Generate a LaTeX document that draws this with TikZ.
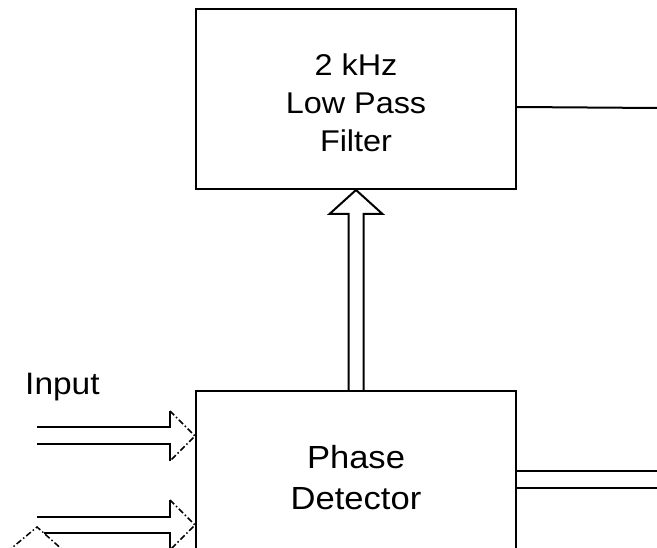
\documentclass[tikz,border=0pt]{standalone}
\usepackage{fontspec}
\newfontfamily\lbl[FakeStretch=1.08]{Liberation Sans}
\usetikzlibrary{calc}
\begin{document}
\begin{tikzpicture}[x=1pt,y=-1pt,
  box/.style={draw, line width=2pt, inner sep=0pt, minimum width=320pt},
  lbltext/.style={align=center, inner sep=0pt},
  wire/.style={line width=2pt, line join=miter},
  tipdash/.style={line width=1.5pt, dash pattern=on 6pt off 2.5pt on 1.5pt off 2.5pt}]
\useasboundingbox (0,0) rectangle (657,548);
\clip (0,0) rectangle (657,548);
% boxes
\node[box, minimum height=180pt] (filt) at (356,99) {};
\node[lbltext, font=\lbl\fontsize{30}{38}\selectfont] (filtlbl) at (356,103) {2 kHz\\Low Pass\\Filter};
\node[box, minimum height=300pt, anchor=north] (pd) at (356,390) {};
\node[lbltext, font=\lbl\fontsize{32}{41}\selectfont] (pdlbl) at (356,478) {Phase\\Detector};
% input label
\node[anchor=base west, inner sep=0pt, font=\lbl\fontsize{31}{36}\selectfont] (inlab) at (25,395) {Input};
% hollow arrow from phase detector to filter
\draw[wire] ($(pd.north)+(-7.5,0)$) |- ($(filt.south)+(-26.5,24)$) -- (filt.south)
  -- ($(filt.south)+(26.5,24)$) -| ($(pd.north)+(7.5,0)$);
% input arrow 1
\coordinate (t1) at ($(pd.north west)+(0,46)$);
\coordinate (s1a) at (37,427.5);
\coordinate (s1b) at (37,444.5);
\draw[wire] (s1a) -- ($(t1)+(-25,-8.5)$) -- ($(t1)+(-25,-25)$);
\draw[tipdash] ($(t1)+(-25,-25)$) -- (t1) -- ($(t1)+(-25,25)$);
\draw[wire] ($(t1)+(-25,25)$) -- ($(t1)+(-25,8.5)$) -- (s1b);
% input arrow 2
\coordinate (t2) at ($(pd.north west)+(0,135)$);
\coordinate (s2a) at (37,517);
\coordinate (s2b) at (44,533);
\draw[wire] (s2a) -- ($(t2)+(-25,-8)$) -- ($(t2)+(-25,-25)$);
\draw[tipdash] ($(t2)+(-25,-25)$) -- (t2) -- ($(t2)+(-25,25)$);
\draw[wire] ($(t2)+(-25,25)$) -- ($(t2)+(-25,8)$) -- (s2b);
% partial dashed head at bottom left
\coordinate (pk) at (37,527);
\draw[tipdash] ($(pk)+(-30,25)$) -- (pk) -- ($(pk)+(28,25)$);
% outputs to the right
\coordinate (o1) at (657,108);
\coordinate (o2) at (657,471);
\coordinate (o3) at (657,488);
\draw[wire] ($(filt.north east)+(0,99)$) -- (o1);
\draw[wire] ($(pd.north east)+(0,81)$) -- (o2);
\draw[wire] ($(pd.north east)+(0,98)$) -- (o3);
\end{tikzpicture}
\end{document}
